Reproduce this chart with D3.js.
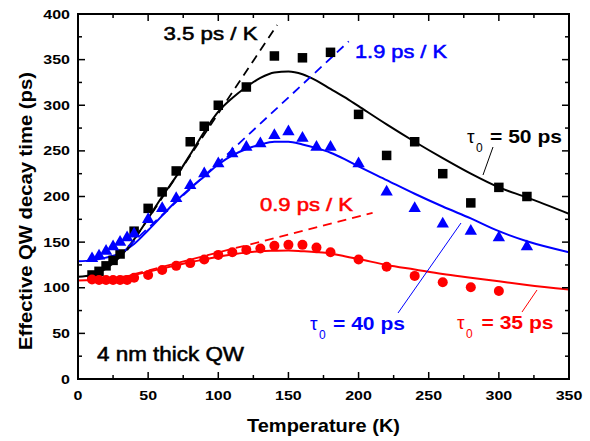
<!DOCTYPE html>
<html lang="en">
<head>
  <meta charset="UTF-8" />
  <title>QW decay time</title>
  <script src="https://d3js.org/d3.v7.min.js"></script>
  <style>
    body { margin: 0; background: #fff; }
    text { font-family: Arial, "Liberation Sans", sans-serif; }
  </style>
</head>
<body>
  <svg id="chart" width="590" height="441"></svg>
  <script>
    // measured points
    const blackT = [10, 15, 20, 25, 30, 40, 50, 60, 70, 80, 90, 100, 120, 140, 160, 180, 200, 220, 240, 260, 280, 300, 320];
    const blackV = [114, 118, 124, 130, 137, 162, 187, 205, 228, 260, 277, 300, 320, 354, 352, 358, 290, 245, 260, 225, 193, 210, 200];

    const blueT = [10, 15, 20, 25, 30, 35, 40, 50, 60, 70, 80, 90, 100, 110, 120, 130, 140, 150, 160, 170, 180, 200, 220, 240, 260, 280, 300, 320];
    const blueV = [132, 135, 140, 145, 150, 155, 159, 175, 187, 198, 212, 225, 236, 247, 254, 258, 267, 271, 264, 254, 254, 236, 205, 187, 170, 162, 155, 145];

    const redT = [10, 15, 20, 25, 30, 35, 40, 50, 60, 70, 80, 90, 100, 110, 120, 130, 140, 150, 160, 170, 180, 200, 220, 240, 260, 280, 300];
    const redV = [109, 108.5, 108.5, 108.5, 108.5, 108.5, 111, 114, 119.5, 124, 127, 131, 136, 139, 141.5, 143, 146, 147, 147, 144, 139, 131, 123, 113, 106, 100.5, 96.5];

    // fit curves
    const fitT = [0, 10, 20, 30, 40, 50, 60, 70, 80, 90, 100, 110, 120, 130, 140, 150, 160, 170, 180, 190, 200, 220, 240, 260, 280, 300, 320, 350];
    const fitBlack = [112, 114, 121, 134, 153, 176, 200, 222, 246, 271, 293, 308, 320, 330, 336, 337, 334, 327, 318, 309, 299, 279, 260, 242, 225, 210, 199, 181];
    const fitBlue = [129, 130, 133, 138, 148, 163, 179, 195, 209, 222, 235, 245, 252, 257, 260, 260, 257, 253, 248, 241, 233, 218, 203, 189, 176, 162, 151, 139];
    const fitRed = [108, 108.5, 109.5, 111.5, 114, 117.5, 121, 124.5, 128, 131, 134, 136.5, 138.5, 140, 140.5, 140.8, 140, 139, 137.5, 134.5, 131.5, 125, 120, 115, 111, 107, 103, 98];

    // linear slopes: [start point], [end point] as [T, ps]
    const slopeBlack = [[35, 141], [142, 388]];
    const slopeBlue = [[28, 134], [193, 370]];
    const slopeRed = [[40, 115], [210, 182]];

    const xTicks = [0, 50, 100, 150, 200, 250, 300, 350];
    const yTicks = [0, 50, 100, 150, 200, 250, 300, 350, 400];

    const svg = d3.select("#chart");
    const pl = 78, pr = 569, pt = 14, pb = 379;

    const x = d3.scaleLinear().domain([0, 350]).range([pl, pr]);
    const y = d3.scaleLinear().domain([0, 400]).range([pb, pt]);

    svg.append("clipPath").attr("id", "plot")
      .append("rect").attr("x", pl).attr("y", pt).attr("width", pr - pl).attr("height", pb - pt);

    const plot = svg.append("g").attr("clip-path", "url(#plot)");

    const line = d3.line().x(d => x(d[0])).y(d => y(d[1])).curve(d3.curveMonotoneX);

    // fits
    [[fitBlack, "#000"], [fitBlue, "#0000ff"], [fitRed, "#ff0000"]].forEach(([vals, col]) => {
      plot.append("path")
        .datum(fitT.map((t, i) => [t, vals[i]]))
        .attr("d", line)
        .attr("fill", "none")
        .attr("stroke", col)
        .attr("stroke-width", 2);
    });

    // slope lines
    [[slopeBlack, "#000"], [slopeBlue, "#0000ff"], [slopeRed, "#ff0000"]].forEach(([s, col]) => {
      plot.append("line")
        .attr("x1", x(s[0][0])).attr("y1", y(s[0][1]))
        .attr("x2", x(s[1][0])).attr("y2", y(s[1][1]))
        .attr("stroke", col)
        .attr("stroke-width", 1.8)
        .attr("stroke-dasharray", "9,6");
    });

    // markers
    plot.selectAll(".sq").data(blackT.map((t, i) => [t, blackV[i]])).enter()
      .append("rect")
      .attr("x", d => x(d[0]) - 4.75).attr("y", d => y(d[1]) - 4.75)
      .attr("width", 9.5).attr("height", 9.5)
      .attr("fill", "#000");

    const tri = d3.symbol().type(d3.symbolTriangle).size(66);
    plot.selectAll(".tri").data(blueT.map((t, i) => [t, blueV[i]])).enter()
      .append("path")
      .attr("d", tri)
      .attr("transform", d => `translate(${x(d[0])},${y(d[1])})`)
      .attr("fill", "#0000ff");

    plot.selectAll(".dot").data(redT.map((t, i) => [t, redV[i]])).enter()
      .append("circle")
      .attr("cx", d => x(d[0])).attr("cy", d => y(d[1]))
      .attr("r", 5)
      .attr("fill", "#ff0000");

    // axes
    const major = 7, minor = 4;
    const axes = svg.append("g").attr("stroke", "#000").attr("stroke-width", 1.5);
    d3.range(0, 351, 25).forEach(t => {
      const len = t % 50 === 0 ? major : minor;
      axes.append("line").attr("x1", x(t)).attr("x2", x(t)).attr("y1", pb).attr("y2", pb - len);
      axes.append("line").attr("x1", x(t)).attr("x2", x(t)).attr("y1", pt).attr("y2", pt + len);
    });
    d3.range(0, 401, 25).forEach(v => {
      const len = v % 50 === 0 ? major : minor;
      axes.append("line").attr("y1", y(v)).attr("y2", y(v)).attr("x1", pl).attr("x2", pl + len);
      axes.append("line").attr("y1", y(v)).attr("y2", y(v)).attr("x1", pr).attr("x2", pr - len);
    });
    svg.append("rect")
      .attr("x", pl).attr("y", pt).attr("width", pr - pl).attr("height", pb - pt)
      .attr("fill", "none").attr("stroke", "#000").attr("stroke-width", 2);

    const digitW = 8.9;
    svg.selectAll(".xt").data(xTicks).enter().append("text")
      .attr("x", d => x(d) - String(d).length * digitW / 2).attr("y", pb + 21)
      .attr("font-size", 12.5).attr("font-weight", "bold")
      .attr("textLength", d => String(d).length * digitW)
      .attr("lengthAdjust", "spacingAndGlyphs")
      .text(d => d);

    svg.selectAll(".yt").data(yTicks).enter().append("text")
      .attr("x", d => 70 - String(d).length * digitW).attr("y", d => y(d) + 4.5)
      .attr("font-size", 12.5).attr("font-weight", "bold")
      .attr("textLength", d => String(d).length * digitW)
      .attr("lengthAdjust", "spacingAndGlyphs")
      .text(d => d);

    svg.append("text")
      .attr("x", 247).attr("y", 432)
      .attr("font-size", 18.5).attr("font-weight", "bold")
      .attr("textLength", 153).attr("lengthAdjust", "spacingAndGlyphs")
      .text("Temperature (K)");

    svg.append("text")
      .attr("transform", "translate(31.5,350) rotate(-90)")
      .attr("font-size", 18.5).attr("font-weight", "bold")
      .attr("textLength", 278).attr("lengthAdjust", "spacingAndGlyphs")
      .text("Effective QW decay time (ps)");

    // annotations (regular face with a thin outline for a medium weight)
    const note = (tx, ty, len, txt, col, size) => svg.append("text")
      .attr("x", tx).attr("y", ty).attr("fill", col)
      .attr("stroke", col).attr("stroke-width", 0.55)
      .attr("font-size", size)
      .attr("textLength", len).attr("lengthAdjust", "spacingAndGlyphs")
      .text(txt);

    note(163.5, 40, 94, "3.5 ps / K", "#000", 18.5);
    note(355, 58, 92, "1.9 ps / K", "#0000ff", 18.5);
    note(260, 211, 93, "0.9 ps / K", "#ff0000", 18.5);
    note(97, 361, 147, "4 nm thick QW", "#000", 20);

    const tau = (tx, ty, eqX, endX, rest, col) => {
      svg.append("text").attr("x", tx).attr("y", ty).attr("fill", col)
        .attr("font-family", "'Liberation Serif', 'DejaVu Serif', serif")
        .attr("font-size", 19).text("τ");
      svg.append("text").attr("x", tx + 9).attr("y", ty + 9).attr("fill", col)
        .attr("font-size", 12).text("0");
      svg.append("text").attr("x", eqX).attr("y", ty).attr("fill", col)
        .attr("font-size", 18).attr("font-weight", "bold")
        .attr("textLength", endX - eqX).attr("lengthAdjust", "spacingAndGlyphs")
        .text("= " + rest);
    };
    tau(467, 143, 490, 562, "50 ps", "#000");
    tau(310, 330, 333, 405, "40 ps", "#0000ff");
    tau(457, 329, 481.5, 553.5, "35 ps", "#ff0000");

    svg.append("line").attr("x1", 483).attr("y1", 175).attr("x2", 493).attr("y2", 147)
      .attr("stroke", "#000").attr("stroke-width", 1);
    svg.append("line").attr("x1", 398).attr("y1", 313).attr("x2", 461).attr("y2", 223)
      .attr("stroke", "#0000ff").attr("stroke-width", 1);
    svg.append("line").attr("x1", 522).attr("y1", 312).attr("x2", 537).attr("y2", 290)
      .attr("stroke", "#ff0000").attr("stroke-width", 1);
  </script>
</body>
</html>
